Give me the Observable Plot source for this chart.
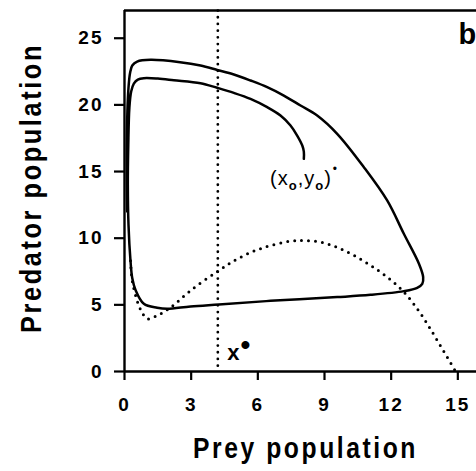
<!DOCTYPE html>
<html>
<head>
<meta charset="utf-8">
<script src="https://cdn.jsdelivr.net/npm/d3@7"></script>
<script src="https://cdn.jsdelivr.net/npm/@observablehq/plot@0.6"></script>
<style>
  html, body { margin: 0; padding: 0; background: white; }
</style>
</head>
<body>
<div id="chart"></div>
<script>
// Axis ticks
const xTicks = [0, 3, 6, 9, 12, 15];
const yTicks = [0, 5, 10, 15, 20, 25];
const xTitle = "Prey population";
const yTitle = "Predator population";
const panelLabel = "b";

// Trajectory from (x0,y0) spiralling out to the limit cycle
const trajX = [8.07, 8.07, 8.0, 7.77, 7.47, 7.02, 6.42, 5.67, 4.92, 4.17, 3.42, 2.22, 1.5, 0.87, 0.6, 0.42, 0.3, 0.22, 0.17, 0.15, 0.18, 0.27, 0.35, 0.5, 0.87, 1.47, 1.92, 2.97, 4.25, 6.57, 9.57, 11.07, 12.57, 13.17, 13.4, 13.44, 13.25, 12.57, 11.82, 10.77, 9.57, 8.67, 7.92, 7.17, 6.42, 5.67, 4.92, 4.17, 3.42, 2.5, 1.17, 0.57, 0.35, 0.25, 0.18, 0.13, 0.1, 0.12];
const trajY = [15.95, 16.5, 16.95, 17.7, 18.45, 19.2, 19.83, 20.45, 20.9, 21.28, 21.63, 21.85, 21.97, 22.0, 21.9, 21.6, 21.0, 19.8, 17.0, 14.0, 11.0, 8.3, 7.0, 6.1, 5.08, 4.78, 4.7, 4.88, 5.03, 5.3, 5.58, 5.75, 6.03, 6.28, 6.58, 7.08, 8.08, 10.33, 12.83, 15.33, 17.83, 19.2, 19.95, 20.7, 21.33, 21.83, 22.28, 22.62, 22.95, 23.2, 23.38, 23.25, 22.95, 22.4, 21.3, 19.5, 16.0, 12.0];

// Prey nullcline (dotted hump)
const nullX = [0.27, 0.35, 0.57, 0.8, 1.02, 1.47, 2.07, 2.97, 4.25, 5.22, 6.27, 7.48, 8.1, 8.83, 9.58, 10.33, 11.08, 11.83, 12.58, 13.33, 14.08, 14.9];
const nullY = [8.3, 6.8, 5.3, 4.4, 3.95, 4.2, 4.8, 6.07, 7.58, 8.57, 9.3, 9.78, 9.83, 9.7, 9.3, 8.7, 7.95, 7.07, 5.95, 4.33, 2.32, 0];

// Predator nullcline x*
const xStar = [4.2];

// Annotations
const annText = ["(xo,yo)*", "x*"];
const annX = [6.55, 4.62];
const annY = [14.0, 0.83];

const xMax = 15.84, yMax = 27.08;

const traj = trajX.map((x, i) => ({x, y: trajY[i]}));
const nullc = nullX.map((x, i) => ({x, y: nullY[i]}));
const ann = annText.map((t, i) => ({t, x: annX[i], y: annY[i]}));

const svg = Plot.plot({
  width: 476,
  height: 471,
  marginLeft: 124,
  marginRight: 0,
  marginTop: 10,
  marginBottom: 100,
  x: {domain: [0, xMax]},
  y: {domain: [0, yMax]},
  style: {fontFamily: "'Liberation Sans', Arial, sans-serif", background: "white", color: "black"},
  marks: [
    Plot.axisX({ticks: xTicks, tickSize: 9, tickPadding: 17, fontSize: 19, fontWeight: "bold", label: null, strokeWidth: 2.2}),
    Plot.axisY({ticks: yTicks, tickSize: 10, tickPadding: 11, fontSize: 19, fontWeight: "bold", label: null, strokeWidth: 2.2}),
    Plot.ruleX([0], {strokeWidth: 2.4}),
    Plot.ruleY([0], {strokeWidth: 2.4}),
    Plot.ruleY([yMax], {strokeWidth: 2.4}),
    Plot.ruleX(xStar, {y1: 0.4, y2: yMax, strokeWidth: 2.8, strokeDasharray: "0,6.7", strokeLinecap: "round"}),
    Plot.line(nullc, {x: "x", y: "y", curve: "catmull-rom", strokeWidth: 3, strokeDasharray: "0,7", strokeLinecap: "round"}),
    Plot.line(traj, {x: "x", y: "y", curve: "catmull-rom", strokeWidth: 2.5}),
    Plot.text(ann, {x: "x", y: "y", text: "t", textAnchor: "start", lineAnchor: "bottom", fontSize: 20}),
    Plot.text([xTitle], {frameAnchor: "bottom", textAnchor: "middle", dx: 5, dy: 86, fontSize: 29, fontWeight: "bold"}),
    Plot.text([yTitle], {frameAnchor: "left", textAnchor: "middle", dx: -93, dy: -3, rotate: -90, fontSize: 29, fontWeight: "bold"}),
    Plot.text([panelLabel], {frameAnchor: "top-right", textAnchor: "start", lineAnchor: "bottom", dx: -18, dy: 33, fontSize: 29, fontWeight: "bold"})
  ]
});

svg.querySelectorAll("text").forEach(t => {
  const s = t.textContent;
  if (s === annText[0]) {
    t.innerHTML = '(x<tspan dy="5" font-size="13" font-weight="bold">o</tspan><tspan dy="-5">,y</tspan><tspan dy="5" font-size="13" font-weight="bold">o</tspan><tspan dy="-5">)</tspan><tspan dy="-12" dx="1" font-size="12">•</tspan>';
    t.setAttribute("letter-spacing", "1");
  } else if (s === annText[1]) {
    t.innerHTML = 'x<tspan dy="-6" dx="1" font-size="28">•</tspan>';
    t.setAttribute("font-size", "22");
    t.setAttribute("font-weight", "bold");
  } else if (s === xTitle) {
    t.setAttribute("letter-spacing", "3");
    t.setAttribute("textLength", "225");
    t.setAttribute("lengthAdjust", "spacingAndGlyphs");
  } else if (s === yTitle) {
    t.setAttribute("letter-spacing", "3");
    t.setAttribute("textLength", "290");
    t.setAttribute("lengthAdjust", "spacingAndGlyphs");
  }
});
svg.querySelectorAll('g[aria-label="x-axis tick label"] text, g[aria-label="y-axis tick label"] text').forEach(t => {
  t.setAttribute("letter-spacing", "2");
});

document.getElementById("chart").appendChild(svg);
</script>
</body>
</html>
